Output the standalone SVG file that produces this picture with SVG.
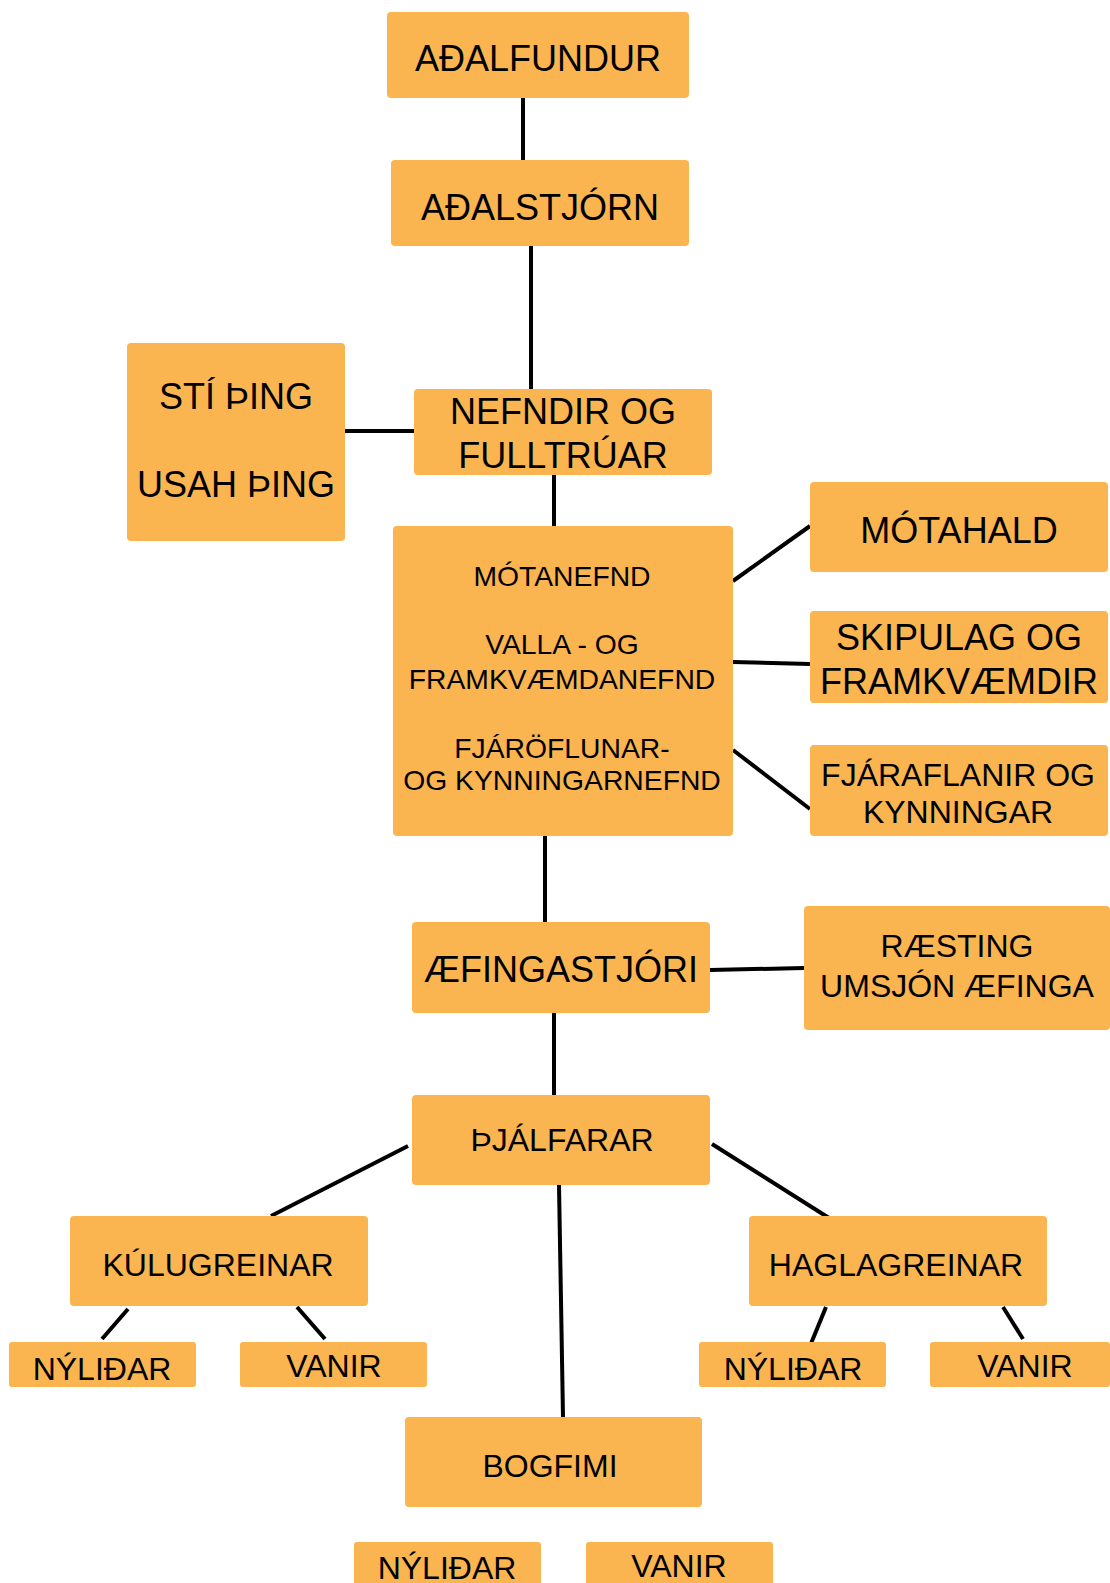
<svg xmlns="http://www.w3.org/2000/svg" width="1110" height="1583" viewBox="0 0 1110 1583">
<style>
.box{fill:#FAB550;}
text{font-family:"Liberation Sans",Arial,sans-serif;fill:#000;text-anchor:middle;}
.f36{font-size:36px;}
.f32{font-size:32px;}
.f28{font-size:28.3px;}
.c{stroke:#000;stroke-width:4;fill:none;}
</style>
<rect width="1110" height="1583" fill="#fff"/>
<g id="connectors">
<line class="c" x1="523" y1="98" x2="523" y2="160"/>
<line class="c" x1="531" y1="246" x2="531" y2="389"/>
<line class="c" x1="345" y1="431" x2="414" y2="431"/>
<line class="c" x1="554" y1="475" x2="554" y2="526"/>
<line class="c" x1="733" y1="581" x2="810" y2="526"/>
<line class="c" x1="733" y1="662" x2="810" y2="664"/>
<line class="c" x1="733" y1="750" x2="810" y2="809"/>
<line class="c" x1="545" y1="836" x2="545" y2="922"/>
<line class="c" x1="710" y1="970" x2="804" y2="968"/>
<line class="c" x1="554" y1="1013" x2="554" y2="1095"/>
<line class="c" x1="408" y1="1146" x2="271" y2="1216"/>
<line class="c" x1="712" y1="1144" x2="829" y2="1218"/>
<line class="c" x1="559" y1="1185" x2="563" y2="1417"/>
<line class="c" x1="128" y1="1309" x2="102" y2="1339"/>
<line class="c" x1="297" y1="1307" x2="325" y2="1339"/>
<line class="c" x1="826" y1="1307" x2="810" y2="1346"/>
<line class="c" x1="1003" y1="1307" x2="1023" y2="1339"/>
</g>
<g id="adalfundur"><rect class="box" x="387" y="12" width="302" height="86" rx="4"/><text class="f36" x="538" y="71">AÐALFUNDUR</text></g>
<g id="adalstjorn"><rect class="box" x="391" y="160" width="298" height="86" rx="4"/><text class="f36" x="540" y="220">AÐALSTJÓRN</text></g>
<g id="thing"><rect class="box" x="127" y="343" width="218" height="198" rx="4"/><text class="f36" x="236" y="409">STÍ ÞING</text><text class="f36" x="236" y="497">USAH ÞING</text></g>
<g id="nefndir"><rect class="box" x="414" y="389" width="298" height="86" rx="4"/><text class="f36" x="563" y="424">NEFNDIR OG</text><text class="f36" x="563" y="468">FULLTRÚAR</text></g>
<g id="nefndirbox"><rect class="box" x="393" y="526" width="340" height="310" rx="4"/><text class="f28" x="562" y="586">MÓTANEFND</text><text class="f28" x="562" y="654">VALLA - OG</text><text class="f28" x="562" y="689">FRAMKVÆMDANEFND</text><text class="f28" x="562" y="758">FJÁRÖFLUNAR-</text><text class="f28" x="562" y="790">OG KYNNINGARNEFND</text></g>
<g id="motahald"><rect class="box" x="810" y="482" width="298" height="90" rx="4"/><text class="f36" x="959" y="543">MÓTAHALD</text></g>
<g id="skipulag"><rect class="box" x="810" y="611" width="298" height="92" rx="4"/><text class="f36" x="959" y="650">SKIPULAG OG</text><text class="f36" x="959" y="694">FRAMKVÆMDIR</text></g>
<g id="fjaraflanir"><rect class="box" x="810" y="745" width="298" height="91" rx="4"/><text class="f32" x="958" y="786">FJÁRAFLANIR OG</text><text class="f32" x="958" y="823">KYNNINGAR</text></g>
<g id="aefingastjori"><rect class="box" x="412" y="922" width="298" height="91" rx="4"/><text class="f36" x="561" y="982">ÆFINGASTJÓRI</text></g>
<g id="raesting"><rect class="box" x="804" y="906" width="306" height="124" rx="4"/><text class="f32" x="957" y="957">RÆSTING</text><text class="f32" x="957" y="997">UMSJÓN ÆFINGA</text></g>
<g id="thjalfarar"><rect class="box" x="412" y="1095" width="298" height="90" rx="4"/><text class="f32" x="562" y="1151">ÞJÁLFARAR</text></g>
<g id="kulugreinar"><rect class="box" x="70" y="1216" width="298" height="90" rx="4"/><text class="f32" x="218" y="1276">KÚLUGREINAR</text></g>
<g id="haglagreinar"><rect class="box" x="749" y="1216" width="298" height="90" rx="4"/><text class="f32" x="896" y="1276">HAGLAGREINAR</text></g>
<g id="kulu-nylidar"><rect class="box" x="9" y="1342" width="187" height="45" rx="3"/><text class="f32" x="102" y="1380">NÝLIÐAR</text></g>
<g id="kulu-vanir"><rect class="box" x="240" y="1342" width="187" height="45" rx="3"/><text class="f32" x="334" y="1377">VANIR</text></g>
<g id="hagla-nylidar"><rect class="box" x="699" y="1342" width="187" height="45" rx="3"/><text class="f32" x="793" y="1380">NÝLIÐAR</text></g>
<g id="hagla-vanir"><rect class="box" x="930" y="1342" width="180" height="45" rx="3"/><text class="f32" x="1025" y="1377">VANIR</text></g>
<g id="bogfimi"><rect class="box" x="405" y="1417" width="297" height="90" rx="4"/><text class="f32" x="550" y="1477">BOGFIMI</text></g>
<g id="bog-nylidar"><rect class="box" x="354" y="1542" width="187" height="45" rx="3"/><text class="f32" x="447" y="1579">NÝLIÐAR</text></g>
<g id="bog-vanir"><rect class="box" x="586" y="1542" width="187" height="45" rx="3"/><text class="f32" x="679" y="1577">VANIR</text></g>
</svg>
